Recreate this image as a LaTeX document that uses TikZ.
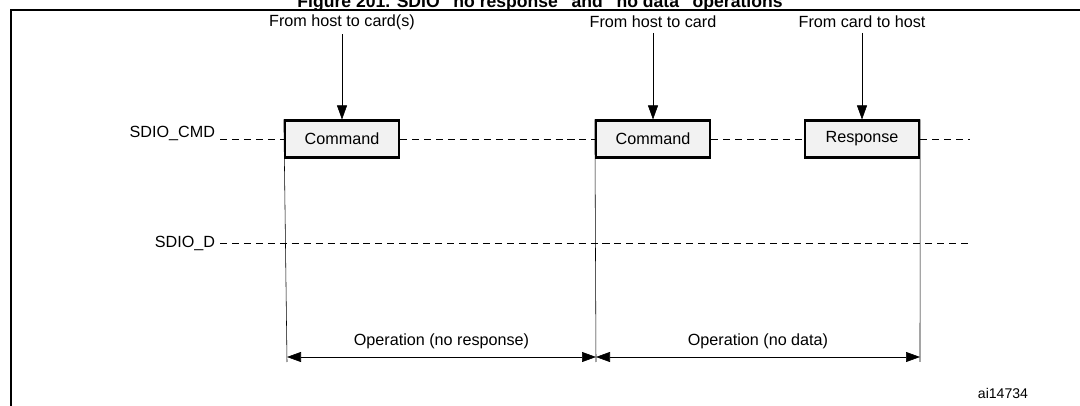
\documentclass[tikz,border=0pt]{standalone}
\usepackage{fontspec}
\setmainfont{Liberation Sans}
\usetikzlibrary{positioning, arrows.meta, calc}
\tikzset{
every node/.style = {font = \fontsize{11.5}{13}\selectfont},
packet/.style = {rectangle, draw, line width = 1.6pt, fill = black!5, inner sep = 0pt,
	minimum width = 2.85cm, minimum height = 0.92cm},
signal/.style = {dashed, thin, dash pattern = on 5pt off 3.5pt},
marker/.style = {thin},
source/.style = {-{Triangle[length = 3.5mm, width = 2.5mm]}, thin},
span/.style = {{Triangle[length = 3.5mm, width = 2.5mm]}-{Triangle[length = 3.5mm, width = 2.5mm]}, thin}
}

\begin{document}
\begin{tikzpicture}[x = 0.025cm, y = -0.025cm]
\useasboundingbox (0,0) rectangle (1080,406);

%% Title and frame
\node [font = \bfseries\fontsize{12.5}{14}\selectfont] (title) at (540,3) {Figure 201. SDIO ``no response'' and ``no data'' operations};
\draw [line width = 1pt] (11,406) -- (11,10) -- (1080,10);

%% The signal lines
\node [anchor = east] (cmd) at (220,133) {SDIO\_CMD};
\node [anchor = east] (dat) at (220,243) {SDIO\_D};
\node [packet] (c1) at (342,139) {Command};
\node [packet] (c2) at (653,139) {Command};
\node [packet] (r1) at (862,139) {Response};
\coordinate (cmdend) at (970,139);
\coordinate (datend) at (970,243);
\draw [signal] (cmd.east |- c1.west) -- (c1.west);
\draw [signal] (c1.east) -- (c2.west);
\draw [signal] (c2.east) -- (r1.west);
\draw [signal] (r1.east) -- (cmdend);
\draw [signal] (dat.east) -- (datend);

%% The directions
\node (t1) at (342,22) {From host to card(s)};
\node (t2) at (653,22) {From host to card};
\node (t3) at (862,22) {From card to host};
\path [source] (t1) edge (c1.north);
\path [source] (t2) edge (c2.north);
\path [source] (t3) edge (r1.north);

%% The operations
\coordinate (m1) at (287,362);
\coordinate (m2) at (596,362);
\coordinate (m3) at (920,362);
\draw [marker] (c1.north west) -- (m1);
\draw [marker] (c2.north west) -- (m2);
\draw [marker] (r1.north east) -- (m3);
\draw [span] ($(m1)+(0,-5)$) -- node [above = 2pt] {Operation (no response)} ($(m2)+(0,-5)$);
\draw [span] ($(m2)+(0,-5)$) -- node [above = 2pt] {Operation (no data)} ($(m3)+(0,-5)$);

\node [font = \fontsize{10}{12}\selectfont] (id) at (1003,393) {ai14734};
\end{tikzpicture}
\end{document}
